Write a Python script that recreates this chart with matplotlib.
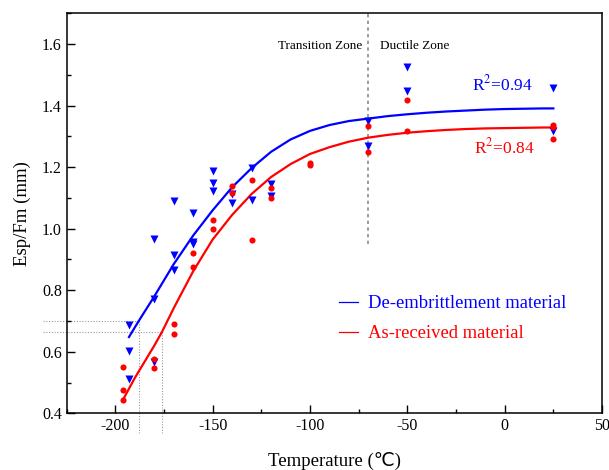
import numpy as np
import matplotlib
matplotlib.use('Agg')
import matplotlib.pyplot as plt
from matplotlib.lines import Line2D
from matplotlib.ticker import MultipleLocator

plt.rcParams['font.family'] = ['Liberation Serif', 'DejaVu Sans']
plt.rcParams['mathtext.fontset'] = 'stix'
plt.rcParams['axes.unicode_minus'] = False

# measured points, de-embrittlement material (blue triangles)
blue_T = [-193, -193, -193, -180, -180, -180, -170, -170, -170, -160, -160, -160,
          -150, -150, -150, -140, -140, -130, -130, -120, -120, -70, -70, -50, -50,
          25, 25]
blue_v = [0.686, 0.603, 0.511, 0.770, 0.965, 0.567, 1.089, 0.916, 0.867, 1.050, 0.958, 0.950,
          1.186, 1.149, 1.124, 1.113, 1.083, 1.197, 1.092, 1.146, 1.105, 1.351, 1.268, 1.527, 1.449,
          1.456, 1.316]

# measured points, as-received material (red circles)
red_T = [-196, -196, -196, -180, -180, -170, -170, -160, -160, -150, -150, -140, -140,
         -130, -130, -120, -120, -100, -100, -70, -70, -50, -50, 25, 25, 25]
red_v = [0.549, 0.476, 0.443, 0.577, 0.547, 0.690, 0.658, 0.922, 0.877, 1.028, 0.998, 1.138, 1.116,
         1.157, 0.964, 1.133, 1.101, 1.213, 1.208, 1.334, 1.249, 1.419, 1.318, 1.337, 1.330, 1.290]

# fitted curves
blue_fit_T = [-193, -188, -180, -170, -160, -150, -140, -130, -120, -110, -100, -90, -80,
              -70, -60, -50, -40, -30, -20, -10, 0, 10, 20, 25]
blue_fit_v = [0.648, 0.700, 0.780, 0.885, 0.978, 1.060, 1.135, 1.197, 1.250, 1.290, 1.318,
              1.337, 1.350, 1.358, 1.366, 1.372, 1.377, 1.381, 1.384, 1.387, 1.389, 1.390,
              1.391, 1.391]
red_fit_T = [-196, -190, -180, -176, -170, -160, -150, -140, -130, -120, -110, -100, -90,
             -80, -70, -60, -50, -40, -30, -20, -10, 0, 10, 20, 25]
red_fit_v = [0.445, 0.515, 0.620, 0.665, 0.742, 0.862, 0.965, 1.045, 1.113, 1.168, 1.210,
             1.243, 1.265, 1.283, 1.296, 1.305, 1.312, 1.317, 1.321, 1.324, 1.326, 1.327,
             1.328, 1.329, 1.329]

fig = plt.figure(figsize=(6.09, 4.70), dpi=100)
ax = fig.add_axes([0.1095, 0.1206, 0.879, 0.851])

ax.plot(blue_fit_T, blue_fit_v, color='blue', lw=1.6, zorder=3)
ax.plot(red_fit_T, red_fit_v, color='red', lw=1.6, zorder=3)
ax.plot(blue_T, blue_v, 'v', color='blue', ms=5.8, mec='none', zorder=4)
ax.plot(red_T, red_v, 'o', color='red', ms=4.4, mec='none', zorder=4)

# reference lines
dot = dict(color='0.6', lw=0.8, ls=(0, (1, 1.5)), clip_on=False, zorder=1)
ax.plot([-237, -188], [0.70, 0.70], **dot)
ax.plot([-188, -188], [0.70, 0.335], **dot)
ax.plot([-237, -176], [0.665, 0.665], **dot)
ax.plot([-176, -176], [0.665, 0.335], **dot)
ax.plot([-70, -70], [0.95, 1.7], color='0.55', lw=1.2, ls=(0, (2, 2)), zorder=1)

ax.text(-73, 1.595, 'Transition Zone', ha='right', va='center', fontsize=9.5)
ax.text(-64, 1.595, 'Ductile Zone', ha='left', va='center', fontsize=9.5)
ax.text(-17, 1.468, r'R$^2$=0.94', color='blue', ha='left', va='center', fontsize=12.5)
ax.text(-15.5, 1.265, r'R$^2$=0.84', color='red', ha='left', va='center', fontsize=12.5)

handles = [Line2D([], [], color='blue', lw=0.9), Line2D([], [], color='red', lw=0.9)]
ax.legend(handles, ['De-embrittlement material', 'As-received material'],
          labelcolor=['blue', 'red'], frameon=False, fontsize=13.4,
          handlelength=1.0, handletextpad=0.55, labelspacing=0.7,
          loc='center left', bbox_to_anchor=(0.478, 0.236))

ax.set_xlim(-225, 50)
ax.set_ylim(0.4, 1.7)
ax.xaxis.set_major_locator(MultipleLocator(50))
ax.xaxis.set_minor_locator(MultipleLocator(25))
ax.yaxis.set_major_locator(MultipleLocator(0.2))
ax.yaxis.set_minor_locator(MultipleLocator(0.1))
ax.yaxis.set_major_formatter(matplotlib.ticker.FormatStrFormatter('%.1f'))
ax.tick_params(which='both', direction='in', top=False, right=False, labelsize=11.5, width=1)
ax.tick_params(which='major', length=5.5)
ax.tick_params(which='minor', length=3)
for s in ax.spines.values():
    s.set_linewidth(1.1)

ax.set_xlabel('Temperature (\u2103)', fontsize=13.5, labelpad=13)
ax.set_ylabel('Esp/Fm (mm)', fontsize=13.5, labelpad=8)

fig.savefig('out.png', dpi=100)
